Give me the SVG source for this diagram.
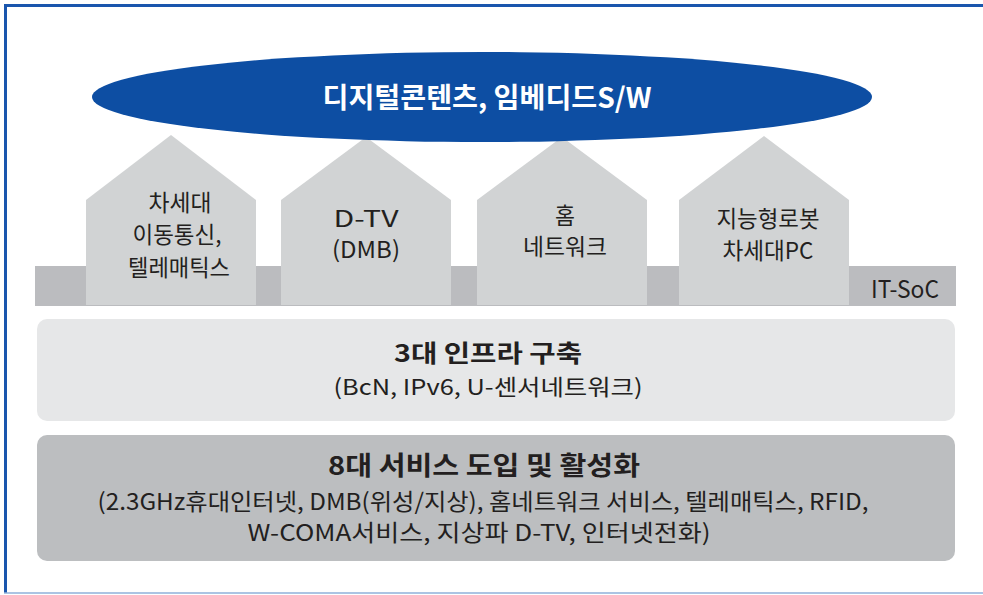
<svg xmlns="http://www.w3.org/2000/svg" width="983" height="595" viewBox="0 0 983 595">
<style>
  text { font-family: "Noto Sans CJK KR", "Noto Sans", "Liberation Sans", sans-serif; fill: #231f20; text-anchor: middle; }
  .house { fill: #d1d3d4; }
  .ht { font-size: 23px; }
  .title { fill: #ffffff; font-size: 28px; font-weight: bold; }
  .bold { font-weight: bold; }
</style>
<rect width="983" height="595" fill="#ffffff"/>
<g id="frame">
  <line x1="4" y1="5.5" x2="983" y2="5.5" stroke="#1a56ad" stroke-width="3"/>
  <line x1="5.5" y1="4" x2="5.5" y2="593" stroke="#1a56ad" stroke-width="3"/>
  <line x1="4" y1="593" x2="983" y2="593" stroke="#8fb0da" stroke-width="1.5"/>
</g>
<g id="strip">
  <rect x="35" y="266" width="921" height="40" fill="#bbbcbf"/>
  <text x="905" y="298" font-size="24" textLength="68" lengthAdjust="spacingAndGlyphs">IT-SoC</text>
</g>
<g id="house1">
  <polygon class="house" points="86,200 171,135 256,200 256,305 86,305"/>
  <text class="ht" x="180" y="211" textLength="63" lengthAdjust="spacingAndGlyphs">차세대</text>
  <text class="ht" x="177" y="243" textLength="89" lengthAdjust="spacingAndGlyphs">이동통신,</text>
  <text class="ht" x="179" y="276" textLength="102" lengthAdjust="spacingAndGlyphs">텔레매틱스</text>
</g>
<g id="house2">
  <polygon class="house" points="281,200 366,137 451,200 451,305 281,305"/>
  <text class="ht" x="366" y="227" textLength="65" lengthAdjust="spacingAndGlyphs">D-TV</text>
  <text class="ht" x="366" y="258" textLength="68" lengthAdjust="spacingAndGlyphs">(DMB)</text>
</g>
<g id="house3">
  <polygon class="house" points="477,200 562,137 647,200 647,305 477,305"/>
  <text class="ht" x="565" y="224" textLength="20" lengthAdjust="spacingAndGlyphs">홈</text>
  <text class="ht" x="565" y="255" textLength="84" lengthAdjust="spacingAndGlyphs">네트워크</text>
</g>
<g id="house4">
  <polygon class="house" points="679,200 764,136 849,200 849,305 679,305"/>
  <text class="ht" x="768" y="227" textLength="103" lengthAdjust="spacingAndGlyphs">지능형로봇</text>
  <text class="ht" x="768" y="259" textLength="91" lengthAdjust="spacingAndGlyphs">차세대PC</text>
</g>
<g id="ellipse">
  <ellipse cx="482" cy="97" rx="390" ry="45" fill="#0d4ea3"/>
  <text class="title" x="487" y="108" textLength="329" lengthAdjust="spacingAndGlyphs">디지털콘텐츠, 임베디드S/W</text>
</g>
<g id="infra">
  <rect x="37" y="319" width="918" height="102" rx="10" fill="#e6e7e8"/>
  <text class="bold" x="488" y="362" font-size="24" textLength="188" lengthAdjust="spacingAndGlyphs">3대 인프라 구축</text>
  <text x="488" y="395" font-size="22" textLength="309" lengthAdjust="spacingAndGlyphs">(BcN, IPv6, U-센서네트워크)</text>
</g>
<g id="service">
  <rect x="37" y="435" width="918" height="126" rx="10" fill="#bcbec0"/>
  <text class="bold" x="484" y="475" font-size="26" textLength="312" lengthAdjust="spacingAndGlyphs">8대 서비스 도입 및 활성화</text>
  <text x="483" y="510" font-size="23" textLength="771" lengthAdjust="spacingAndGlyphs">(2.3GHz휴대인터넷, DMB(위성/지상), 홈네트워크 서비스, 텔레매틱스, RFID,</text>
  <text x="479" y="541" font-size="23" textLength="463" lengthAdjust="spacingAndGlyphs">W-COMA서비스, 지상파 D-TV, 인터넷전화)</text>
</g>
<g id="connectors"></g>
</svg>
